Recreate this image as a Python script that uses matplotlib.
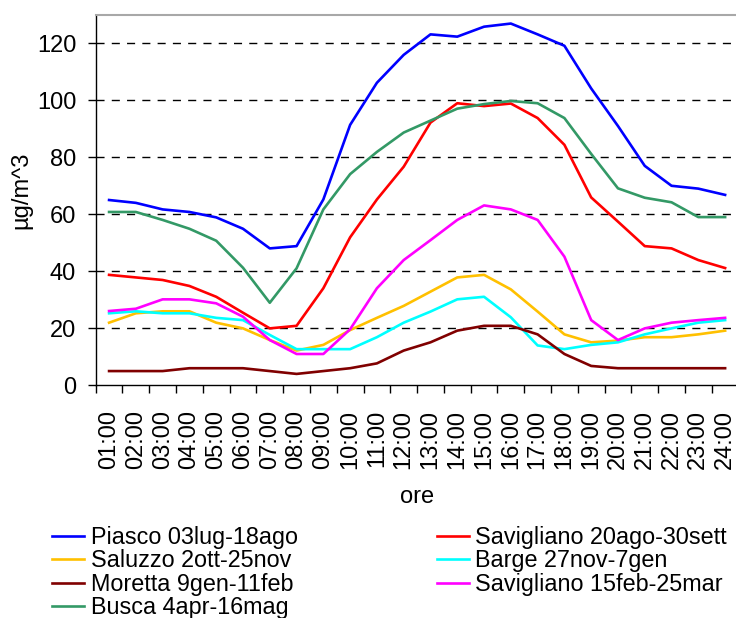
import numpy as np
import matplotlib
matplotlib.use('Agg')
import matplotlib.pyplot as plt

plt.rcParams['font.family'] = ['Liberation Sans', 'DejaVu Sans']

# data
ore = ['%02d:00' % h for h in range(1, 25)]

piasco = [65, 64, 61.7, 60.8, 58.9, 54.9, 48, 48.8, 65.2, 91.4, 106.2, 116,
          123.2, 122.4, 125.9, 127, 123.2, 119.2, 104.2, 91, 77, 70, 69, 66.8]
savigliano_ago = [38.7, 37.8, 36.9, 34.8, 31, 25.4, 19.9, 20.8, 34, 51.9, 65.2, 76.7,
                  92.2, 99, 98, 98.9, 93.8, 84.4, 65.9, 57.4, 48.8, 48, 43.9, 41.1]
saluzzo = [21.9, 25.2, 25.9, 25.9, 21.9, 19.9, 15.8, 12.1, 14.1, 19.3, 23.6, 27.8,
           32.8, 37.8, 38.7, 33.6, 25.8, 17.8, 15, 15.6, 16.8, 16.8, 17.8, 19.1]
barge = [25.2, 25.9, 25.2, 25.2, 23.6, 22.8, 17.6, 12.6, 12.6, 12.6, 16.8, 21.9,
         25.8, 30.1, 31, 23.8, 13.9, 12.6, 14.1, 15, 17.8, 19.9, 21.9, 22.8]
moretta = [4.9, 4.9, 4.9, 5.9, 5.9, 5.9, 4.9, 3.9, 4.9, 5.9, 7.6, 12.1,
           15, 19.1, 20.8, 20.8, 17.8, 10.9, 6.7, 5.9, 5.9, 5.9, 5.9, 5.9]
savigliano_feb = [26, 26.8, 30.1, 30.1, 28.7, 24, 15.8, 10.9, 10.9, 19.6, 34, 43.9,
                  50.9, 58, 63.1, 61.7, 58, 45.1, 22.8, 15.8, 19.9, 21.9, 22.8, 23.6]
busca = [60.8, 60.8, 58, 54.9, 50.7, 41.2, 28.9, 41, 61.7, 74.1, 81.9, 88.7,
         92.9, 97.1, 98.7, 99.8, 99, 93.8, 81.2, 69.1, 65.8, 64.2, 59, 59]

# legend order: first column then second column
serie = [
    ('Piasco 03lug-18ago', piasco, '#0000FF'),
    ('Saluzzo 2ott-25nov', saluzzo, '#FFC000'),
    ('Moretta 9gen-11feb', moretta, '#800000'),
    ('Busca 4apr-16mag', busca, '#339966'),
    ('Savigliano 20ago-30sett', savigliano_ago, '#FF0000'),
    ('Barge 27nov-7gen', barge, '#00FFFF'),
    ('Savigliano 15feb-25mar', savigliano_feb, '#FF00FF'),
]
ordine_disegno = [0, 4, 1, 5, 2, 6, 3]

fig = plt.figure(figsize=(7.36, 6.18), dpi=100)
ax = fig.add_axes([0.130, 0.377, 0.8734, 0.5987])

x = np.arange(len(ore))
linee = {}
for i in ordine_disegno:
    nome, val, col = serie[i]
    linee[i], = ax.plot(x, val, color=col, lw=1.9, label=nome)

ax.set_xlim(-0.5, len(ore) - 0.5)
ax.set_ylim(0, 130)
ax.set_yticks(np.arange(0, 121, 20))
ax.set_xticks(x)
ax.set_xticklabels(ore, rotation=90, fontsize=17)
ax.set_xticks(np.arange(-0.5, len(ore), 1), minor=True)
ax.tick_params(axis='x', which='major', length=0, pad=18)
ax.tick_params(axis='x', which='minor', length=6, width=1)
ax.tick_params(axis='y', labelsize=17, length=6, width=1, pad=8)

for v in range(20, 121, 20):
    ax.axhline(v, color='black', lw=1, ls=(0, (5.8, 5.2)), zorder=0)

ax.spines['top'].set_color('#A8A8A8')
ax.spines['top'].set_linewidth(1.5)
ax.spines['right'].set_visible(False)
ax.spines['left'].set_linewidth(1)
ax.spines['bottom'].set_linewidth(1)

ax.set_xlabel('ore', fontsize=17, labelpad=12)
ax.set_ylabel('µg/m^3', fontsize=17)
ax.yaxis.set_label_coords(-0.098, 0.527)

fig.legend([linee[i] for i in range(7)], [s[0] for s in serie],
           ncol=2, loc='upper left', bbox_to_anchor=(0.0705, 0.149),
           frameon=False, fontsize=16.8, handlelength=1.37, handletextpad=0.29,
           labelspacing=0.02, columnspacing=5.96, borderaxespad=0, borderpad=0)

plt.savefig('out.png', dpi=100)
